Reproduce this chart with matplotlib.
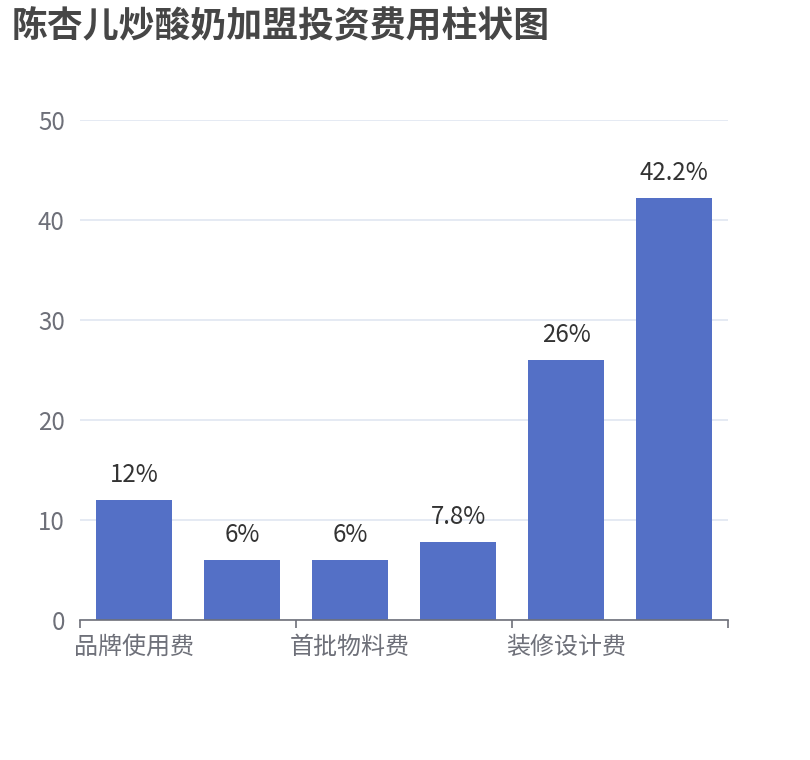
import matplotlib
matplotlib.use("Agg")
import matplotlib.pyplot as plt
from matplotlib.ticker import FixedLocator

plt.rcParams['font.family'] = ['Noto Sans CJK SC', 'DejaVu Sans']

title = "陈杏儿炒酸奶加盟投资费用柱状图"
categories = ["品牌使用费", "保证金", "首批物料费", "设备费用", "装修设计费", "其他费用"]
values = [12, 6, 6, 7.8, 26, 42.2]
value_labels = ["12%", "6%", "6%", "7.8%", "26%", "42.2%"]
y_ticks = [0, 10, 20, 30, 40, 50]

W, H = 810, 760
fig = plt.figure(figsize=(W / 100, H / 100), dpi=100)
ax = fig.add_axes([80 / W, 140 / H, 648 / W, 500 / H])

x = list(range(len(categories)))
ax.bar(x, values, width=0.7, color="#5470C6", zorder=3)
ax.set_xlim(-0.5, len(categories) - 0.5)
ax.set_ylim(0, 50)

for xi, v, lab in zip(x, values, value_labels):
    ax.annotate(lab, (xi, v), xytext=(0, 9), textcoords="offset points",
                ha="center", va="bottom", fontsize=17.3, color="#333333")

ax.set_yticks(y_ticks)
ax.set_yticklabels([str(t) for t in y_ticks])
ax.tick_params(axis="y", length=0, pad=11, labelsize=17.3, labelcolor="#6E7079")
ax.yaxis.grid(True, color="#E0E6F1", linewidth=1.2, zorder=0)

# boundary ticks every two categories, labels on every other category
ax.xaxis.set_major_locator(FixedLocator([-0.5, 1.5, 3.5, 5.5]))
ax.xaxis.set_major_formatter(plt.NullFormatter())
shown = x[::2]
ax.xaxis.set_minor_locator(FixedLocator(shown))
ax.set_xticklabels([categories[i] for i in shown], minor=True)
ax.tick_params(axis="x", which="major", length=6, width=1.2, color="#6E7079", direction="out")
ax.tick_params(axis="x", which="minor", length=0, pad=10, labelsize=17.3, labelcolor="#6E7079")

for s in ["top", "right", "left"]:
    ax.spines[s].set_visible(False)
ax.spines["bottom"].set_color("#6E7079")
ax.spines["bottom"].set_linewidth(1.2)
ax.spines["bottom"].set_zorder(4)

fig.text(12 / W, 1 - 27 / H, title, fontsize=25.8, fontweight="bold", color="#464646",
         ha="left", va="center")

fig.savefig("out.png", dpi=100, facecolor="white")
